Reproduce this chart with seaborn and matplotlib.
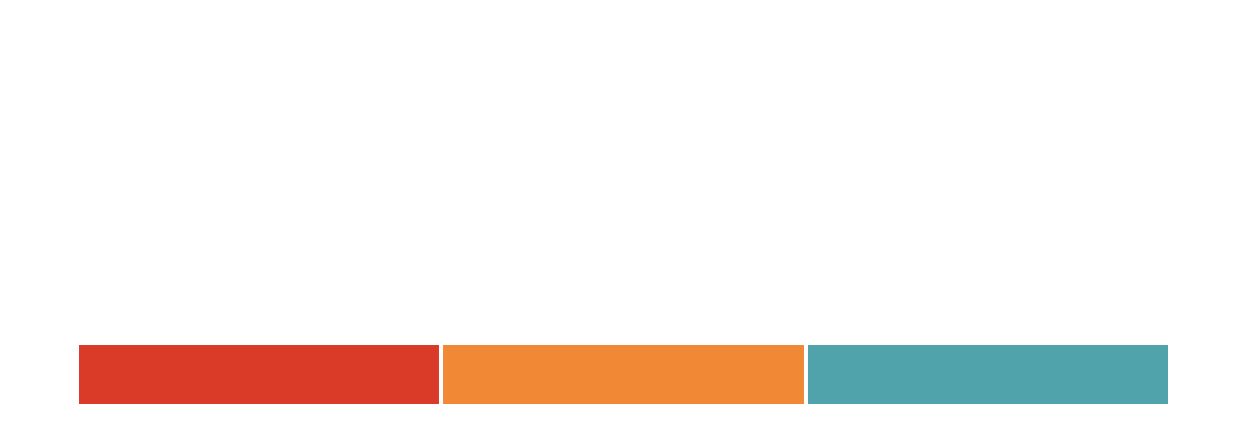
# 세 구간 색상 막대 (equal segments)
import matplotlib
matplotlib.use('Agg')
import matplotlib.pyplot as plt
import seaborn as sns

# data
segments = ['red', 'orange', 'teal']
shares = [1, 1, 1]
colors = ['#DA3A28', '#F08836', '#50A3AA']

sns.set_theme(style='white')

fig = plt.figure(figsize=(12.48, 4.25), dpi=100)
fig.patch.set_facecolor('white')
# axes placed so the bar sits at the bottom like the reference
ax = fig.add_axes([77 / 1248, 19 / 425, 1093 / 1248, 63 / 425])

sns.barplot(x=segments, y=shares, hue=segments, palette=colors,
            width=1.0, edgecolor='white', linewidth=2.9,
            saturation=1, legend=False, ax=ax)

ax.set_xlim(-0.5, 2.5)
ax.set_ylim(0, 1)
ax.axis('off')

fig.savefig('out.png', dpi=100, facecolor='white')
